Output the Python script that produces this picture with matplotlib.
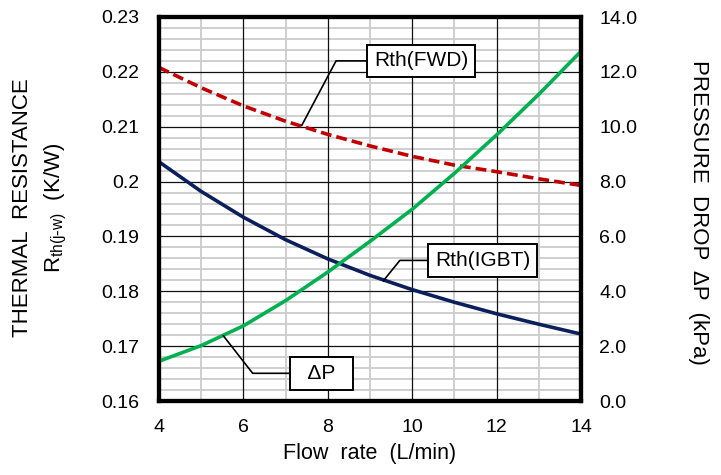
import matplotlib
matplotlib.use("Agg")
import matplotlib.pyplot as plt

plt.rcParams['font.family'] = ['Liberation Sans', 'DejaVu Sans']

flow = [4, 5, 6, 7, 8, 9, 10, 11, 12, 13, 14]
rth_igbt = [0.2036, 0.1982, 0.1935, 0.1894, 0.1859, 0.1829, 0.1803, 0.1780, 0.1759, 0.1740, 0.1722]
rth_fwd = [0.2208, 0.2171, 0.2138, 0.2110, 0.2086, 0.2065, 0.2046, 0.2030, 0.2018, 0.2005, 0.1993]
dp = [1.45, 2.02, 2.74, 3.66, 4.70, 5.82, 6.99, 8.30, 9.70, 11.18, 12.75]

left_ticks = [0.16, 0.17, 0.18, 0.19, 0.20, 0.21, 0.22, 0.23]
left_labels = ['0.16', '0.17', '0.18', '0.19', '0.2', '0.21', '0.22', '0.23']
right_ticks = [0, 2, 4, 6, 8, 10, 12, 14]
x_ticks = [4, 6, 8, 10, 12, 14]
x_minor = [5, 7, 9, 11, 13]

fig = plt.figure(figsize=(7.21, 4.75), dpi=100)
L, R, T, B = 159, 581, 17, 401
ax = fig.add_axes([L/721, 1 - B/475, (R-L)/721, (B-T)/475])
ax.set_xlim(4, 14)
ax.set_ylim(0.16, 0.23)
ax.set_xticks(x_ticks)
ax.set_yticks(left_ticks)
ax.set_yticklabels(left_labels)
ax.tick_params(which='both', length=0, labelsize=14)
ax.tick_params(axis='y', pad=14)
ax.tick_params(axis='x', pad=13)

# grid: light minor lines first, black major lines on top
y_minor = [0.16 + 0.002*i for i in range(36) if i % 5 != 0]
for v in x_minor:
    ax.axvline(v, color='#cccccc', lw=1.3, zorder=0.5)
for v in y_minor:
    ax.axhline(v, color='#cccccc', lw=1.3, zorder=0.5)
for v in x_ticks[1:-1]:
    ax.axvline(v, color='#111111', lw=0.9, zorder=0.6)
for v in left_ticks[1:-1]:
    ax.axhline(v, color='#111111', lw=0.9, zorder=0.6)

for s in ax.spines.values():
    s.set_linewidth(3)

ax.plot(flow, rth_igbt, color='#0b1f5c', lw=2.6, zorder=2)
ax.plot(flow, rth_fwd, color='#c00000', lw=2.6, ls=(0, (3, 1.4)), zorder=2)

ax2 = ax.twinx()
ax2.set_ylim(0, 14)
ax2.set_yticks(right_ticks)
ax2.set_yticklabels([f'{v:.1f}' for v in right_ticks])
ax2.tick_params(length=0, labelsize=14, pad=13)
ax2.plot(flow, dp, color='#00b050', lw=2.6, zorder=2)
for s in ax2.spines.values():
    s.set_linewidth(3)

ax.set_xlabel('Flow  rate  (L/min)', fontsize=15.5, labelpad=5)
fig.text(23/721, 1 - 208/475, 'THERMAL  RESISTANCE', rotation=90, fontsize=16, ha='center', va='center')
fig.text(56/721, 1 - 208/475, r'R$_{\mathregular{th(j\text{-}w)}}$  (K/W)', rotation=90, fontsize=16,
         ha='center', va='center')
fig.text(698/721, 1 - 212/475, 'PRESSURE  DROP  ΔP  (kPa)', rotation=-90, fontsize=16,
         ha='center', va='center')

bbox = dict(boxstyle='square,pad=0.33', fc='white', ec='black', lw=1.4)
arrow = dict(arrowstyle='-', color='black', lw=1.2, shrinkA=0, shrinkB=0)

ax.annotate('Rth(FWD)', xy=(7.38, 0.2102), xytext=(10.21, 0.2220), fontsize=15, ha='center', va='center',
            bbox=bbox, arrowprops=dict(arrow, connectionstyle='angle,angleA=0,angleB=62,rad=0'))
ax.annotate('Rth(IGBT)', xy=(9.315, 0.1819), xytext=(11.67, 0.18563), fontsize=15, ha='center', va='center',
            bbox=bbox, arrowprops=dict(arrow, connectionstyle='angle,angleA=0,angleB=51,rad=0'))
ax2.annotate('  ΔP  ', xy=(5.524, 2.38), xytext=(7.846, 1.01), fontsize=15, ha='center', va='center',
             bbox=bbox, arrowprops=dict(arrow, connectionstyle='angle,angleA=0,angleB=-52,rad=0'))

fig.savefig('out.png', dpi=100)
